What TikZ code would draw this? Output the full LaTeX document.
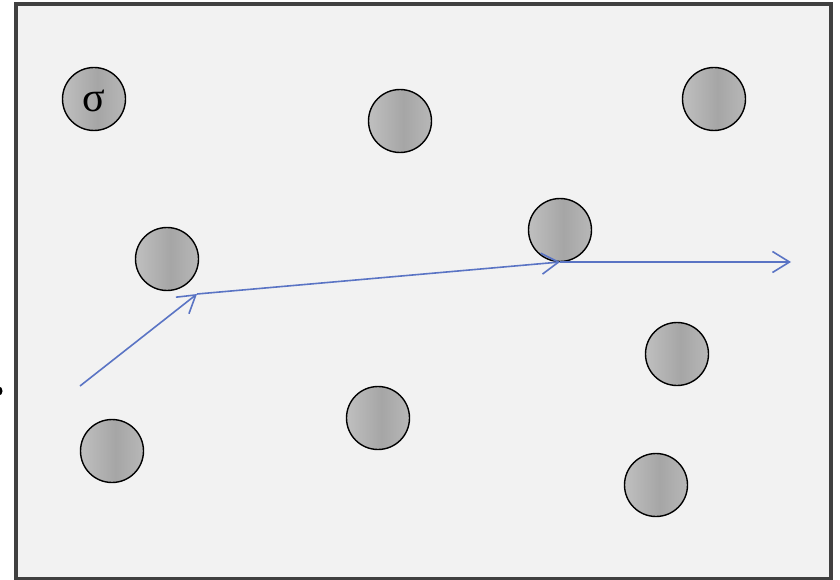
\documentclass[tikz,border=0pt]{standalone}
\usepackage{fontspec}
\newfontfamily\sigfont{Liberation Serif}
\usetikzlibrary{arrows.meta}
\definecolor{boxfill}{HTML}{F2F2F2}
\definecolor{boxline}{HTML}{404040}
\definecolor{pathblue}{HTML}{5A74C4}
\pgfdeclarehorizontalshading{ballshade}{100bp}{
  color(0bp)=(black!25); color(25bp)=(black!25); color(53bp)=(black!35);
  color(75bp)=(black!28); color(100bp)=(black!28)}
\tikzset{
  ball/.style={circle, draw=black, line width=1.4pt, minimum size=63pt, inner sep=0pt,
    shading=ballshade},
  track/.style={draw=pathblue, line width=1.6pt,
    -{Straight Barb[length=17pt,width=21pt,line width=1.6pt]}},
}
\begin{document}
\begin{tikzpicture}[x=1pt,y=-1pt]
\useasboundingbox (0,0) rectangle (840,580);
\draw[boxline, line width=4pt, fill=boxfill] (16,4) rectangle (831,579);
\fill[black] (-1,391) ellipse (3.5pt and 4.5pt);
\node[ball] (c1) at (94,99) {};
\node[font=\sigfont\fontsize{42}{42}\selectfont, anchor=center] (sig) at (94,101) {σ};
\node[ball] (c2) at (400,121) {};
\node[ball] (c3) at (714,99) {};
\node[ball] (c4) at (167,259) {};
\node[ball] (c5) at (560,230) {};
\node[ball] (c6) at (677,354) {};
\node[ball] (c7) at (378,418) {};
\node[ball] (c8) at (112,451) {};
\node[ball] (c9) at (656,485) {};
\coordinate (p0) at (80,386);
\coordinate (p1) at (197,294);
\coordinate (p2) at (560,262);
\coordinate (p3) at (791,262);
\draw[track] (p0) -- (p1);
\draw[track] (p1) -- (p2);
\draw[track] (p2) -- (p3);
\end{tikzpicture}
\end{document}
